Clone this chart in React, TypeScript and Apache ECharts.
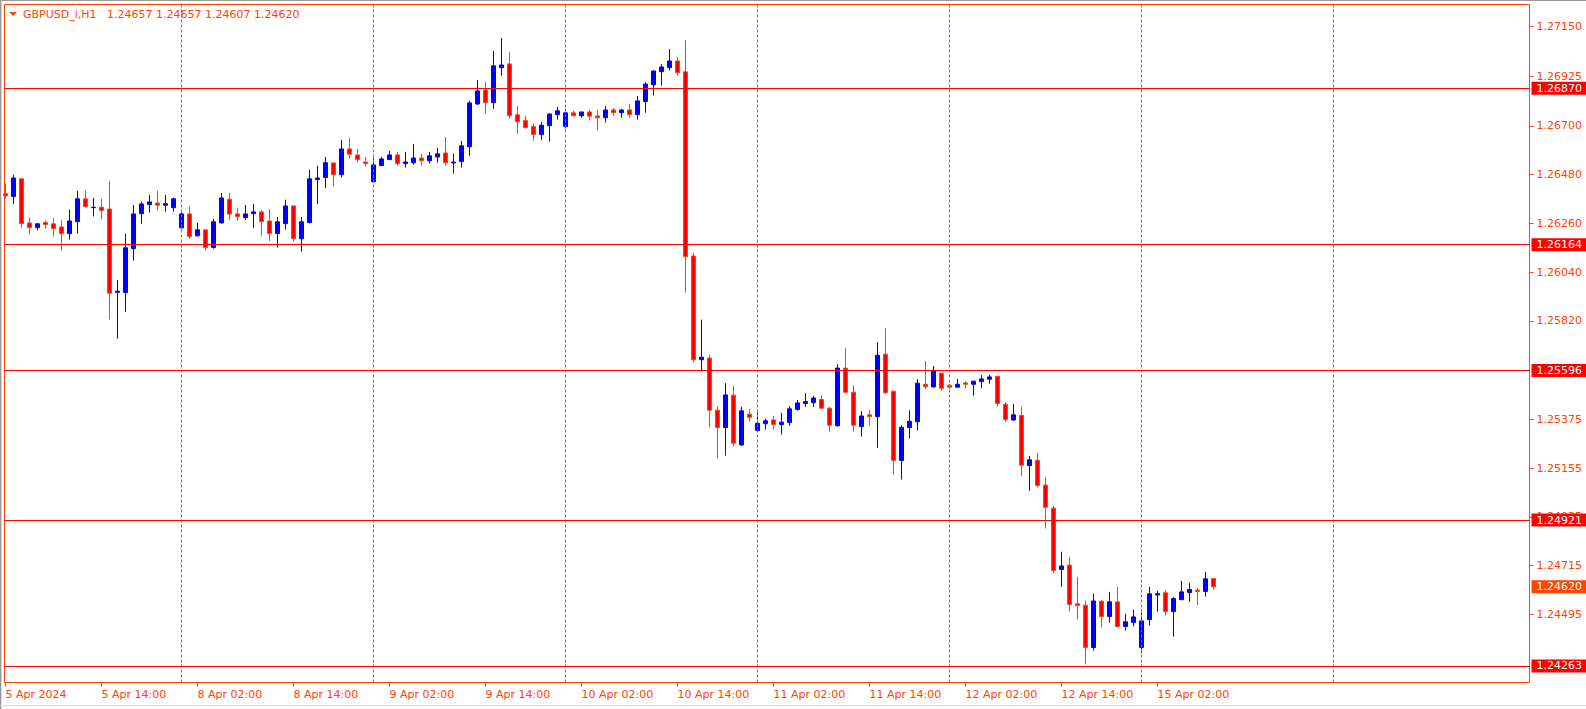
import React, { useEffect, useRef } from "react";
import * as echarts from "echarts";

const symbolName = "GBPUSD_i,H1";

const timeLabelIndex = [0, 12, 24, 36, 48, 60, 72, 84, 96, 108, 120, 132, 144];
const timeLabels = [
  "5 Apr 2024", "5 Apr 14:00", "8 Apr 02:00", "8 Apr 14:00", "9 Apr 02:00",
  "9 Apr 14:00", "10 Apr 02:00", "10 Apr 14:00", "11 Apr 02:00", "11 Apr 14:00",
  "12 Apr 02:00", "12 Apr 14:00", "15 Apr 02:00",
];
const daySeparators = [22, 46, 70, 94, 118, 142, 166];
const priceTicks = [
  1.2715, 1.26925, 1.267, 1.2648, 1.2626, 1.2604, 1.2582,
  1.25375, 1.25155, 1.24935, 1.24715, 1.24495,
];
const levelLines = [1.2687, 1.26164, 1.25596, 1.24921, 1.24263];

const opens = [
  1.26394, 1.26381, 1.26461, 1.26262, 1.26241, 1.26264, 1.26258, 1.26244, 1.26214, 1.26268,
  1.26371, 1.26331, 1.26333, 1.26325, 1.25949, 1.25948, 1.26146, 1.26304, 1.26345, 1.26352,
  1.26342, 1.26331, 1.2624, 1.26303, 1.26204, 1.26231, 1.26151, 1.26262, 1.26369, 1.26303,
  1.26286, 1.26304, 1.26312, 1.26271, 1.26214, 1.26259, 1.26339, 1.26191, 1.26264, 1.26458,
  1.26467, 1.26533, 1.2648, 1.26596, 1.26569, 1.26537, 1.26448, 1.26521, 1.26548, 1.26569,
  1.2653, 1.26534, 1.26555, 1.26543, 1.2656, 1.26578, 1.26533, 1.26539, 1.26606, 1.26799,
  1.26862, 1.26805, 1.26963, 1.2698, 1.2675, 1.26724, 1.26697, 1.26661, 1.26701, 1.26751,
  1.26697, 1.26759, 1.26746, 1.26763, 1.26745, 1.26737, 1.26772, 1.2676, 1.26772, 1.26751,
  1.2681, 1.26886, 1.26945, 1.26963, 1.26993, 1.26944, 1.26113, 1.25645, 1.25652, 1.25417,
  1.25339, 1.25485, 1.2526, 1.25399, 1.25325, 1.25356, 1.25373, 1.25352, 1.25361, 1.2542,
  1.25447, 1.25451, 1.25465, 1.25426, 1.25347, 1.25607, 1.25498, 1.25343, 1.25396, 1.25388,
  1.2567, 1.25503, 1.2519, 1.25339, 1.25365, 1.25534, 1.25522, 1.25584, 1.2553, 1.25521,
  1.2554, 1.25534, 1.25546, 1.25557, 1.2557, 1.25444, 1.25373, 1.25394, 1.25167, 1.25191,
  1.25079, 1.24975, 1.24698, 1.24718, 1.24543, 1.24537, 1.24346, 1.24555, 1.24486, 1.24552,
  1.24441, 1.24459, 1.24346, 1.24472, 1.24583, 1.24593, 1.24508, 1.24562, 1.24594, 1.24605,
  1.24599, 1.24657,
];
const highs = [
  1.2644, 1.26479, 1.26465, 1.26285, 1.26262, 1.26273, 1.26285, 1.26276, 1.26321, 1.26407,
  1.26411, 1.26375, 1.26371, 1.26452, 1.26005, 1.26213, 1.26343, 1.26358, 1.26389, 1.26407,
  1.26389, 1.26376, 1.26321, 1.26336, 1.26262, 1.26231, 1.2628, 1.26398, 1.26398, 1.2633,
  1.26343, 1.26348, 1.26321, 1.26325, 1.26289, 1.26367, 1.26339, 1.26289, 1.26501, 1.2652,
  1.2656, 1.26534, 1.26637, 1.26646, 1.26596, 1.2656, 1.26555, 1.2656, 1.26587, 1.26583,
  1.26583, 1.26619, 1.26574, 1.26583, 1.26601, 1.2665, 1.26574, 1.26632, 1.26813, 1.26907,
  1.26898, 1.27038, 1.27097, 1.27034, 1.2679, 1.26746, 1.2671, 1.26718, 1.26755, 1.26786,
  1.26777, 1.26768, 1.26764, 1.26772, 1.26772, 1.2679, 1.26781, 1.26777, 1.26799, 1.26835,
  1.26898, 1.2695, 1.2698, 1.27047, 1.27011, 1.27088, 1.26127, 1.25826, 1.25667, 1.25435,
  1.25539, 1.25527, 1.25432, 1.25423, 1.25406, 1.25379, 1.25391, 1.25405, 1.25436, 1.25463,
  1.25495, 1.25482, 1.25485, 1.25432, 1.25625, 1.25698, 1.2553, 1.25414, 1.25418, 1.25724,
  1.25787, 1.25503, 1.25349, 1.25417, 1.25557, 1.25639, 1.25617, 1.25584, 1.25534, 1.25558,
  1.25548, 1.25549, 1.25575, 1.25576, 1.25571, 1.25453, 1.25445, 1.25432, 1.25211, 1.25224,
  1.25116, 1.24985, 1.24778, 1.24755, 1.24665, 1.24558, 1.24588, 1.24561, 1.24597, 1.2462,
  1.24498, 1.24516, 1.24502, 1.2462, 1.24602, 1.24606, 1.24575, 1.24647, 1.24638, 1.24615,
  1.24687, 1.24657,
];
const lows = [
  1.26372, 1.26348, 1.2624, 1.2621, 1.26228, 1.26237, 1.26201, 1.26137, 1.26187, 1.26214,
  1.26331, 1.26291, 1.26277, 1.25826, 1.2574, 1.25861, 1.26092, 1.26259, 1.26309, 1.26318,
  1.26313, 1.26313, 1.26237, 1.2619, 1.26201, 1.26137, 1.26146, 1.26259, 1.26276, 1.26271,
  1.26276, 1.2624, 1.26204, 1.26181, 1.26151, 1.26232, 1.26178, 1.26133, 1.2626, 1.26348,
  1.2642, 1.26426, 1.26467, 1.26552, 1.26534, 1.26516, 1.26446, 1.26519, 1.26546, 1.26521,
  1.26512, 1.26525, 1.26521, 1.2653, 1.26534, 1.26521, 1.26485, 1.26512, 1.26566, 1.26795,
  1.26755, 1.26777, 1.26927, 1.26733, 1.26665, 1.26688, 1.26634, 1.26638, 1.26629, 1.26728,
  1.26688, 1.26742, 1.26737, 1.26724, 1.26679, 1.26715, 1.26746, 1.26737, 1.26737, 1.26728,
  1.2676, 1.26837, 1.26882, 1.2695, 1.26927, 1.25948, 1.25632, 1.25591, 1.25339, 1.25199,
  1.25212, 1.25253, 1.25256, 1.25365, 1.25323, 1.25329, 1.25329, 1.25307, 1.25347, 1.25415,
  1.25432, 1.25432, 1.25423, 1.2532, 1.25343, 1.25494, 1.2532, 1.25298, 1.25347, 1.25248,
  1.25489, 1.25126, 1.25104, 1.25289, 1.25325, 1.25512, 1.25519, 1.25505, 1.25513, 1.2552,
  1.25516, 1.25483, 1.25516, 1.25536, 1.25433, 1.25365, 1.25369, 1.2512, 1.25053, 1.25068,
  1.24883, 1.2468, 1.2462, 1.24508, 1.24472, 1.24269, 1.24332, 1.24436, 1.24459, 1.24436,
  1.24422, 1.24441, 1.2432, 1.24445, 1.24508, 1.2449, 1.24395, 1.24561, 1.24552, 1.24538,
  1.24576, 1.24607,
];
const closes = [
  1.26384, 1.26465, 1.26259, 1.26241, 1.26258, 1.26255, 1.26237, 1.26214, 1.26271, 1.26371,
  1.26336, 1.26333, 1.26318, 1.25945, 1.25954, 1.2615, 1.26303, 1.26348, 1.26357, 1.26342,
  1.26349, 1.26371, 1.26303, 1.26201, 1.26231, 1.26151, 1.26267, 1.26375, 1.26302, 1.26291,
  1.26303, 1.26312, 1.26268, 1.26214, 1.26267, 1.26339, 1.26191, 1.26267, 1.26461, 1.26465,
  1.26534, 1.2648, 1.26596, 1.26572, 1.26548, 1.2653, 1.26524, 1.26551, 1.26569, 1.2653,
  1.26537, 1.26555, 1.26543, 1.26565, 1.26574, 1.26534, 1.26537, 1.2661, 1.26804, 1.26858,
  1.26805, 1.26971, 1.26975, 1.26746, 1.26719, 1.26692, 1.26661, 1.26703, 1.26754, 1.26768,
  1.26759, 1.26746, 1.26763, 1.26744, 1.26737, 1.26772, 1.2676, 1.26772, 1.26751, 1.26813,
  1.26889, 1.26948, 1.26966, 1.26993, 1.2694, 1.2611, 1.25645, 1.25656, 1.25417, 1.25339,
  1.25486, 1.25268, 1.25414, 1.25385, 1.25358, 1.25369, 1.25352, 1.25363, 1.25423, 1.2545,
  1.25456, 1.25472, 1.25426, 1.25349, 1.25607, 1.25498, 1.25349, 1.25391, 1.25388, 1.25665,
  1.25496, 1.2519, 1.2534, 1.25367, 1.25539, 1.25523, 1.25597, 1.25516, 1.25521, 1.25534,
  1.25534, 1.25548, 1.25558, 1.25567, 1.25447, 1.25375, 1.25396, 1.25169, 1.25193, 1.25077,
  1.24979, 1.24693, 1.24714, 1.2454, 1.24535, 1.24346, 1.24556, 1.24486, 1.24552, 1.24441,
  1.24462, 1.24484, 1.24466, 1.24588, 1.24589, 1.24508, 1.24567, 1.24597, 1.24608, 1.24599,
  1.24656, 1.2462,
];

const FG = "#FF4500";
const FONT = "DejaVu Sans";

export default function App() {
  const ref = useRef<HTMLDivElement>(null);

  useEffect(() => {
    if (!ref.current) return;
    const chart = echarts.init(ref.current, null, { renderer: "svg" });
    const candles = opens.map((o, i) => [i, o, closes[i], lows[i], highs[i]]);
    const last = opens.length - 1;
    const header = `${symbolName}   ${opens[last].toFixed(5)} ${highs[last].toFixed(5)} ${lows[last].toFixed(5)} ${closes[last].toFixed(5)}`;

    const priceLabel = (bg: string) => ({
      show: true,
      position: "end",
      distance: 2,
      formatter: (p: any) => Number(p.value).toFixed(5),
      color: "#FFFFFF",
      backgroundColor: bg,
      padding: [1, 5, 1, 5],
      lineHeight: 11,
      fontSize: 11,
      fontFamily: FONT,
    });

    chart.setOption({
      animation: false,
      backgroundColor: "#FFFFFF",
      grid: {
        left: 4.5,
        top: 4.5,
        width: 1525,
        height: 678,
        show: true,
        borderColor: FG,
        borderWidth: 1,
        backgroundColor: "transparent",
      },
      xAxis: {
        type: "value",
        min: -0.125,
        max: 190.5,
        position: "bottom",
        axisLine: { show: false, onZero: false },
        splitLine: { show: false },
        axisTick: {
          show: true,
          length: 4,
          customValues: timeLabelIndex,
          lineStyle: { color: FG, width: 1 },
        },
        axisLabel: {
          customValues: timeLabelIndex,
          formatter: (v: number) => {
            const k = timeLabelIndex.indexOf(Math.round(v));
            return k >= 0 ? timeLabels[k] : "";
          },
          align: "left",
          margin: 6,
          color: FG,
          fontFamily: FONT,
          fontSize: 11,
        },
      },
      yAxis: {
        type: "value",
        position: "right",
        min: 1.24188,
        max: 1.27248,
        scale: true,
        axisLine: { show: false, onZero: false },
        splitLine: { show: false },
        axisTick: {
          show: true,
          length: 4,
          customValues: priceTicks,
          lineStyle: { color: FG, width: 1 },
        },
        axisLabel: {
          customValues: priceTicks,
          formatter: (v: number) => v.toFixed(5),
          margin: 7,
          color: FG,
          fontFamily: FONT,
          fontSize: 11,
        },
      },
      graphic: [
        { type: "rect", left: 0, top: 0, shape: { x: 0, y: 0, width: 1, height: 709 }, style: { fill: "#9A9A9A" }, silent: true },
        { type: "rect", left: 1, top: 0, shape: { x: 0, y: 0, width: 1, height: 709 }, style: { fill: "#D8D8D8" }, silent: true },
        { type: "rect", left: 0, top: 0, shape: { x: 0, y: 0, width: 1586, height: 1 }, style: { fill: "#9A9A9A" }, silent: true },
        { type: "rect", left: 0, top: 705, shape: { x: 0, y: 0, width: 1586, height: 1 }, style: { fill: "#DCDCDC" }, silent: true },
        {
          type: "polygon",
          shape: { points: [[9, 12], [17, 12], [13, 16]] },
          style: { fill: FG },
          silent: true,
        },
        {
          type: "text",
          x: 23,
          y: 14,
          style: {
            text: header,
            fill: FG,
            font: `11px "${FONT}"`,
            textVerticalAlign: "middle",
            textAlign: "left",
          },
          silent: true,
        },
      ],
      series: [
        {
          type: "line",
          name: "separators",
          data: [],
          z: 1,
          silent: true,
          markLine: {
            silent: true,
            symbol: "none",
            animation: false,
            precision: 5,
            label: { show: false },
            lineStyle: { color: FG, type: [3, 2], width: 1 },
            data: daySeparators.map((v) => ({ xAxis: v })),
          },
        },
        {
          type: "line",
          name: "levels",
          data: [],
          z: 1,
          silent: true,
          markLine: {
            silent: true,
            symbol: "none",
            animation: false,
            precision: 5,
            lineStyle: { color: "#FF0000", type: "solid", width: 1 },
            label: priceLabel("#FF0000"),
            data: levelLines.map((v) => ({ yAxis: v })),
          },
        },
        {
          type: "candlestick",
          name: symbolName,
          z: 3,
          silent: true,
          barWidth: 4,
          data: candles,
          itemStyle: {
            color: "#0000FF",
            color0: "#FF0000",
            borderColor: "#0000FF",
            borderColor0: FG,
            borderWidth: 1,
          },
        },
        {
          type: "line",
          name: "bid",
          data: [],
          z: 4,
          silent: true,
          markLine: {
            silent: true,
            symbol: "none",
            animation: false,
            precision: 5,
            lineStyle: { color: "rgba(255,255,255,0)", width: 1, type: "solid" },
            label: priceLabel(FG),
            data: [{ yAxis: closes[last] }],
          },
        },
      ],
    });

    return () => {
      chart.dispose();
    };
  }, []);

  return (
    <div
      ref={ref}
      style={{
        position: "fixed",
        left: 0,
        top: 0,
        width: 1586,
        height: 709,
        background: "#FFFFFF",
      }}
    />
  );
}
